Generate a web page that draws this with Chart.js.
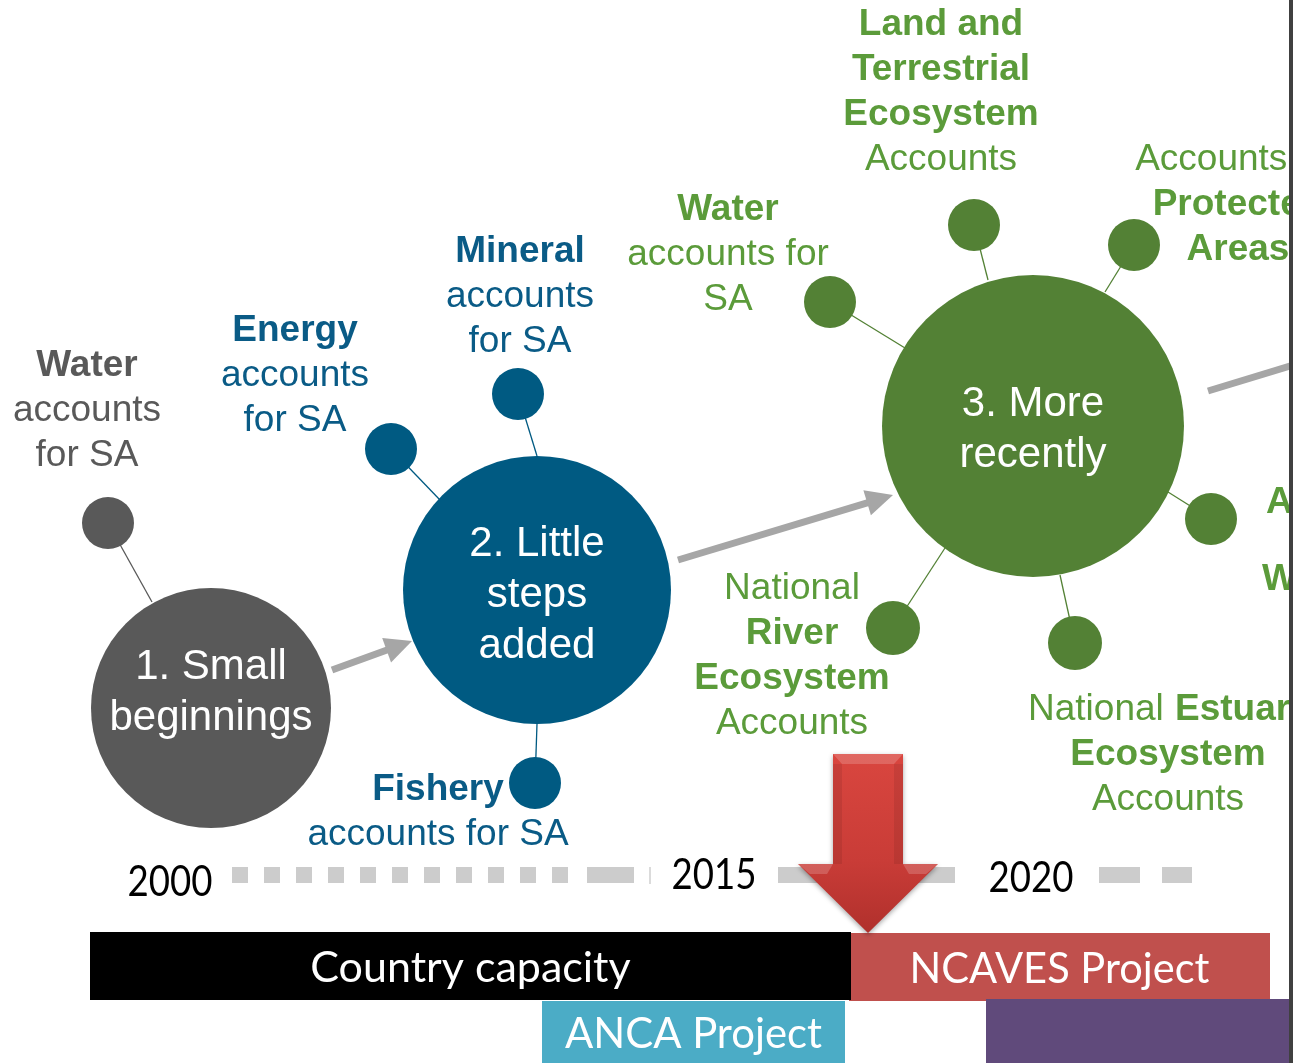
<!DOCTYPE html>
<html>
<head>
<meta charset="utf-8">
<script src="https://cdn.jsdelivr.net/npm/chart.js@4.4.0/dist/chart.umd.min.js"></script>
<style>
    html, body { margin: 0; padding: 0; background: #ffffff; }
    #wrap { width: 1293px; height: 1063px; }
</style>
</head>
<body>
<div id="wrap"><canvas id="chart1" width="1293" height="1063"></canvas></div>
<script>
// diagram space: x 0..1293, y 0..1063 (top down)
const stageLabels = [['1. Small', 'beginnings'], ['2. Little', 'steps', 'added'], ['3. More', 'recently']];
const stageX = [211, 537, 1033];
const stageY = [708, 590, 426];
const stageR = [120, 134, 151];
const stageTextY = [693, 595, 430];
const stageColors = ['#595959', '#005a82', '#538135'];
const textColors = ['#595959', '#0a5b86', '#5b9b3a'];

// small account nodes and the point where their link meets the stage circle
const accountStage = [0, 1, 1, 1, 2, 2, 2, 2, 2, 2];
const accountX = [108, 391, 518, 535, 830, 974, 1134, 1211, 893, 1075];
const accountY = [523, 449, 394, 783, 302, 225, 245, 519, 628, 643];
const accountR = [26, 26, 26, 26, 26, 26, 26, 26, 27, 27];
const linkX = [152, 440, 537, 537, 905, 988, 1105, 1168, 945, 1060];
const linkY = [602, 500, 456, 724, 348, 280, 292, 492, 548, 575];

// account labels ('*' = bold line)
const labelLines = [
    ['*Water', 'accounts', 'for SA'],
    ['*Energy', 'accounts', 'for SA'],
    ['*Mineral', 'accounts', 'for SA'],
    ['*Fishery', 'accounts for SA'],
    ['*Water', 'accounts for', 'SA'],
    ['*Land and', '*Terrestrial', '*Ecosystem', 'Accounts'],
    ['Accounts for', '*Protected', '*Areas'],
    ['National', '*River', '*Ecosystem', 'Accounts'],
    ['National'],
    ['*Estuarine'],
    ['*Ecosystem', 'Accounts'],
    ['*Accounts'],
    ['*Wetlands']
];
const labelX = [87, 295, 520, 438, 728, 941, 1238, 792, 1028, 1175, 1168, 1266, 1262];
const labelY = [366, 331, 252, 790, 210, 25, 160, 589, 710, 710, 755, 503, 580];
const labelStage = [0, 1, 1, 1, 2, 2, 2, 2, 2, 2, 2, 2, 2];
const labelAlign = ['center', 'center', 'center', 'center', 'center', 'center', 'center', 'center', 'left', 'left', 'center', 'left', 'left'];

// grey progress arrows
const arrowFromX = [332, 678, 1208];
const arrowFromY = [670, 560, 391];
const arrowToX = [412, 893, 1300];
const arrowToY = [641, 495, 363];
const arrowHead = [true, true, false];

// timeline
const yearLabels = ['2000', '2015', '2020'];
const yearX = [170, 714, 1031];
const yearY = [882, 875, 878];
const timelineY = 875;
const dotStart = 232, dotEnd = 568;
const dashStart = [587, 778, 1099, 1162];
const dashEnd = [634, 955, 1140, 1192];

// project boxes (drawn in this order)
const projectLabels = ['NCAVES Project', 'Country capacity', 'ANCA Project', ''];
const projectStart = [849, 90, 542, 986];
const projectEnd = [1270, 851, 845, 1293];
const projectTop = [933, 932, 1001, 999];
const projectBottom = [1001, 1000, 1063, 1063];
const projectColors = ['#c0504d', '#000000', '#4bacc6', '#604a7b'];
const projectTextWidth = [300, 326, 257, 0];

// NCAVES start marker
const markerX = 868, markerTop = 754, markerTip = 933;

const datasets = [];

datasets.push({
    label: 'stages',
    data: stageX.map((x, i) => ({ x: x, y: stageY[i], r: stageR[i] })),
    backgroundColor: stageColors,
    borderWidth: 0,
    clip: false,
    order: 1
});
datasets.push({
    label: 'accounts',
    data: accountX.map((x, i) => ({ x: x, y: accountY[i], r: accountR[i] })),
    backgroundColor: accountStage.map(s => stageColors[s]),
    borderWidth: 0,
    clip: false,
    order: 2
});
accountX.forEach((x, i) => {
    datasets.push({
        type: 'line',
        data: [{ x: x, y: accountY[i] }, { x: linkX[i], y: linkY[i] }],
        borderColor: stageColors[accountStage[i]],
        borderWidth: 1.3,
        pointRadius: 0,
        order: 3
    });
});
arrowFromX.forEach((x, i) => {
    let ex = arrowToX[i], ey = arrowToY[i];
    if (arrowHead[i]) {
        const dx = ex - x, dy = ey - arrowFromY[i];
        const len = Math.sqrt(dx * dx + dy * dy);
        ex -= dx / len * 20;
        ey -= dy / len * 20;
    }
    datasets.push({
        type: 'line',
        data: [{ x: x, y: arrowFromY[i] }, { x: ex, y: ey }],
        borderColor: '#a6a6a6',
        borderWidth: 7,
        borderCapStyle: 'butt',
        pointRadius: 0,
        order: 3
    });
});
datasets.push({
    type: 'line',
    data: [{ x: dotStart, y: timelineY }, { x: dotEnd, y: timelineY }],
    borderColor: '#cccccc',
    borderWidth: 16,
    borderDash: [16, 16],
    borderCapStyle: 'butt',
    pointRadius: 0,
    order: 4
});
dashStart.forEach((x, i) => {
    datasets.push({
        type: 'line',
        data: [{ x: x, y: timelineY }, { x: dashEnd[i], y: timelineY }],
        borderColor: '#cccccc',
        borderWidth: 16,
        borderCapStyle: 'butt',
        pointRadius: 0,
        order: 4
    });
});
datasets.push({
    type: 'line',
    data: [{ x: 650, y: timelineY - 8 }, { x: 650, y: timelineY + 9 }],
    borderColor: '#d0d0d0',
    borderWidth: 1.5,
    pointRadius: 0,
    order: 4
});

function drawLines(ctx, lines, px, py, align, color, size, gap) {
    ctx.fillStyle = color;
    ctx.textAlign = align;
    ctx.textBaseline = 'middle';
    lines.forEach((t, i) => {
        const bold = t.startsWith('*');
        ctx.font = (bold ? 'bold ' : '') + size + 'px "Liberation Sans", Arial, sans-serif';
        ctx.fillText(bold ? t.slice(1) : t, px, py + i * gap);
    });
}

const diagramPlugin = {
    id: 'diagram',
    afterDatasetsDraw(chart) {
        const ctx = chart.ctx;
        const xs = chart.scales.x, ys = chart.scales.y;
        const px = v => xs.getPixelForValue(v);
        const py = v => ys.getPixelForValue(v);
        ctx.save();

        // arrow heads
        ctx.fillStyle = '#a6a6a6';
        arrowFromX.forEach((x, i) => {
            if (!arrowHead[i]) return;
            const tx = px(arrowToX[i]), ty = py(arrowToY[i]);
            const dx = tx - px(x), dy = ty - py(arrowFromY[i]);
            const len = Math.sqrt(dx * dx + dy * dy);
            const ux = dx / len, uy = dy / len;
            const bx = tx - ux * 27, by = ty - uy * 27;
            ctx.beginPath();
            ctx.moveTo(tx, ty);
            ctx.lineTo(bx - uy * 13, by + ux * 13);
            ctx.lineTo(bx + uy * 13, by - ux * 13);
            ctx.closePath();
            ctx.fill();
        });

        // project boxes
        projectLabels.forEach((name, i) => {
            const x0 = px(projectStart[i]), x1 = px(projectEnd[i]);
            const y0 = py(projectTop[i]), y1 = py(projectBottom[i]);
            ctx.fillStyle = projectColors[i];
            ctx.fillRect(x0, y0, x1 - x0, y1 - y0);
            if (name) {
                ctx.fillStyle = '#ffffff';
                ctx.textAlign = 'center';
                ctx.textBaseline = 'middle';
                ctx.font = '43px Lato, "Open Sans", sans-serif';
                ctx.fillText(name, (x0 + x1) / 2, (y0 + y1) / 2 + 2, projectTextWidth[i]);
            }
        });

        // year labels
        ctx.fillStyle = '#000000';
        ctx.textAlign = 'center';
        ctx.textBaseline = 'middle';
        ctx.font = '42px Lato, "Open Sans", sans-serif';
        yearLabels.forEach((t, i) => ctx.fillText(t, px(yearX[i]), py(yearY[i]), 85));

        // NCAVES start marker (red down arrow)
        const mx = px(markerX), mt = py(markerTop), mb = py(markerTip);
        const headY = mb - 69;
        ctx.save();
        ctx.shadowColor = 'rgba(0,0,0,0.35)';
        ctx.shadowBlur = 5;
        ctx.shadowOffsetY = 2;
        const grad = ctx.createLinearGradient(0, mt, 0, mb);
        grad.addColorStop(0, '#d9463f');
        grad.addColorStop(0.6, '#c93c37');
        grad.addColorStop(1, '#b0302c');
        ctx.fillStyle = grad;
        ctx.beginPath();
        ctx.moveTo(mx - 35, mt);
        ctx.lineTo(mx + 35, mt);
        ctx.lineTo(mx + 35, headY);
        ctx.lineTo(mx + 70, headY);
        ctx.lineTo(mx, mb);
        ctx.lineTo(mx - 70, headY);
        ctx.lineTo(mx - 35, headY);
        ctx.closePath();
        ctx.fill();
        ctx.restore();
        // bevel highlights
        ctx.fillStyle = 'rgba(255,255,255,0.18)';
        ctx.beginPath();
        ctx.moveTo(mx - 35, mt); ctx.lineTo(mx + 35, mt); ctx.lineTo(mx + 26, mt + 10); ctx.lineTo(mx - 26, mt + 10);
        ctx.closePath(); ctx.fill();
        ctx.beginPath();
        ctx.moveTo(mx - 70, headY); ctx.lineTo(mx - 35, headY); ctx.lineTo(mx - 41, headY + 10); ctx.lineTo(mx - 58, headY + 10);
        ctx.closePath(); ctx.fill();
        ctx.beginPath();
        ctx.moveTo(mx + 70, headY); ctx.lineTo(mx + 35, headY); ctx.lineTo(mx + 41, headY + 10); ctx.lineTo(mx + 58, headY + 10);
        ctx.closePath(); ctx.fill();
        ctx.fillStyle = 'rgba(0,0,0,0.08)';
        ctx.fillRect(mx - 35, mt + 10, 9, headY - mt - 10);
        ctx.fillRect(mx + 26, mt + 10, 9, headY - mt - 10);

        // stage text
        stageLabels.forEach((lines, i) => {
            const n = lines.length;
            drawLines(ctx, lines, px(stageX[i]), py(stageTextY[i]) - (n - 1) * 51 / 2, 'center', '#ffffff', 42, 51);
        });

        // account labels
        labelLines.forEach((lines, i) => {
            drawLines(ctx, lines, px(labelX[i]), py(labelY[i]), labelAlign[i], textColors[labelStage[i]], 37, 45);
        });

        // slide edge
        ctx.fillStyle = '#404040';
        ctx.fillRect(chart.width - 4, 0, 4, chart.height);
        ctx.restore();
    }
};

const ctx1 = document.getElementById('chart1').getContext('2d');
const myChart1 = new Chart(ctx1, {
    type: 'bubble',
    data: { datasets: datasets },
    options: {
        responsive: false,
        animation: false,
        events: [],
        layout: { padding: 0, autoPadding: false },
        plugins: { legend: { display: false }, tooltip: { enabled: false } },
        scales: {
            x: { type: 'linear', min: 0, max: 1293, display: false },
            y: { type: 'linear', min: 0, max: 1063, reverse: true, display: false }
        }
    },
    plugins: [diagramPlugin]
});
</script>
</body>
</html>
